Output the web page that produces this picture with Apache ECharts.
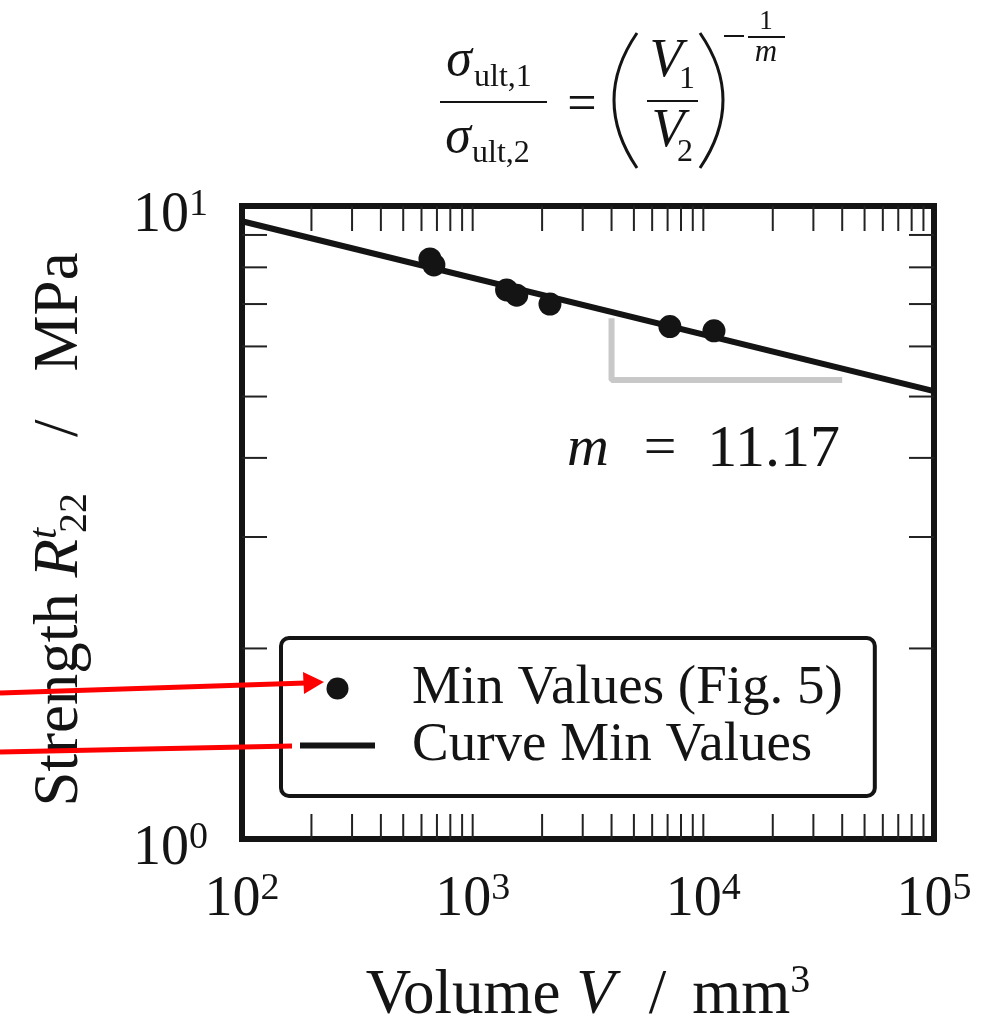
<!DOCTYPE html>
<html>
<head>
<meta charset="utf-8">
<script src="https://cdn.jsdelivr.net/npm/echarts@6/dist/echarts.min.js"></script>
<style>
  html, body { margin: 0; padding: 0; background: #fff; }
  #chart { width: 997px; height: 1027px; }
</style>
</head>
<body>
<div id="chart"></div>
<script>
// measured points (volume in mm^3, strength in MPa)
var volumes = [653, 679, 1403, 1552, 2163, 7162, 11120];
var strengths = [8.25, 8.07, 7.37, 7.23, 7.00, 6.45, 6.35];

// fitted curve end points, m = 11.17
var curveX = [100, 100000];
var curveY = [9.46, 5.10];

// slope triangle (grey)
var triX = [4000, 4000, 40000];
var triY = [6.65, 5.31, 5.31];

// tick positions and decade labels
var xTicks = [200, 300, 400, 500, 600, 700, 800, 900, 1000,
  2000, 3000, 4000, 5000, 6000, 7000, 8000, 9000, 10000,
  20000, 30000, 40000, 50000, 60000, 70000, 80000, 90000];
var yTicks = [2, 3, 4, 5, 6, 7, 8, 9];
var xLabelExp = { 100: '2', 1000: '3', 10000: '4', 100000: '5' };
var yLabelExp = { 1: '0', 10: '1' };

var serif = '"Liberation Serif", "DejaVu Serif", serif';
var ink = '#141414';

var chart = echarts.init(document.getElementById('chart'));

function zip(a, b) {
  return a.map(function (v, i) { return [v, b[i]]; });
}

var labelRich = {
  b: { fontFamily: serif, fontSize: 56, color: ink, lineHeight: 60 },
  s: { fontFamily: serif, fontSize: 38, color: ink, lineHeight: 60, verticalAlign: 'top', padding: [0, 0, 26, 0] }
};

function tickItem(params, api, dir) {
  var cs = params.coordSys;
  var p = api.coord([api.value(0), api.value(1)]);
  var L = 25;
  var st = { stroke: '#222', lineWidth: 2 };
  if (dir === 'x') {
    return { type: 'group', children: [
      { type: 'line', shape: { x1: p[0], y1: cs.y + cs.height, x2: p[0], y2: cs.y + cs.height - L }, style: st },
      { type: 'line', shape: { x1: p[0], y1: cs.y, x2: p[0], y2: cs.y + L }, style: st }
    ] };
  }
  return { type: 'group', children: [
    { type: 'line', shape: { x1: cs.x, y1: p[1], x2: cs.x + L, y2: p[1] }, style: st },
    { type: 'line', shape: { x1: cs.x + cs.width, y1: p[1], x2: cs.x + cs.width - L, y2: p[1] }, style: st }
  ] };
}

var nameRich = {
  a: { fontFamily: serif, fontSize: 63, color: ink, lineHeight: 70 },
  i: { fontFamily: serif, fontSize: 63, fontStyle: 'italic', color: ink, lineHeight: 70 },
  sl: { fontFamily: serif, fontSize: 63, color: ink, lineHeight: 70 },
  s: { fontFamily: serif, fontSize: 40, color: ink, lineHeight: 70, verticalAlign: 'top', padding: [0, 0, 26, 0] },
  sup: { fontFamily: serif, fontSize: 40, fontStyle: 'italic', color: ink, lineHeight: 70, width: 1, verticalAlign: 'top', padding: [0, 0, 26, 5] },
  sub: { fontFamily: serif, fontSize: 40, color: ink, lineHeight: 70, verticalAlign: 'bottom', padding: [16, 0, 0, 0] }
};

var option = {
  backgroundColor: '#fff',
  animation: false,
  grid: {
    left: 242, top: 206, right: 63, bottom: 188,
    outerBoundsMode: 'none',
    containLabel: false,
    show: true, borderColor: ink, borderWidth: 6, backgroundColor: 'transparent'
  },
  xAxis: {
    type: 'log', logBase: 10, min: 100, max: 100000,
    axisLine: { show: false },
    axisTick: { show: false },
    splitLine: { show: false },
    axisLabel: {
      margin: 31,
      formatter: function (v) { return '{b|10}{s|' + (xLabelExp[Math.round(v)] || '') + '}'; },
      rich: labelRich
    },
    name: '{a|Volume }{i|V}{sl|/}{a|mm}{s|3}',
    nameLocation: 'middle',
    nameGap: 122,
    nameTextStyle: {
      rich: Object.assign({}, nameRich, {
        sl: { fontFamily: serif, fontSize: 63, color: ink, lineHeight: 70, padding: [0, 26, 0, 34] }
      })
    }
  },
  yAxis: {
    type: 'log', logBase: 10, min: 1, max: 10,
    axisLine: { show: false },
    axisTick: { show: false },
    splitLine: { show: false },
    axisLabel: {
      margin: 34,
      padding: [20, 0, 0, 0],
      formatter: function (v) { return '{b|10}{s|' + (yLabelExp[Math.round(v)] || '') + '}'; },
      rich: labelRich
    },
    name: '{a|Strength }{i|R}{sup|t}{sub|22}{sl|/}{e|MPa}',
    nameLocation: 'middle',
    nameRotate: 90,
    nameGap: 147,
    nameTextStyle: {
      rich: Object.assign({}, nameRich, {
        sl: { fontFamily: serif, fontSize: 63, color: ink, lineHeight: 70, padding: [0, 48, 0, 56] },
        e: { fontFamily: serif, fontSize: 63, color: ink, lineHeight: 70, padding: [0, 14, 0, 0] }
      })
    }
  },
  legend: {
    orient: 'vertical',
    left: 281, top: 638,
    padding: [22, 32, 22, 19],
    itemGap: 0,
    itemWidth: 75, itemHeight: 22,
    borderColor: ink, borderWidth: 4, borderRadius: 8,
    backgroundColor: '#fff',
    selectedMode: false,
    textStyle: { fontFamily: serif, fontSize: 55, color: ink, lineHeight: 57, padding: [0, 0, 0, 32] },
    data: [
      { name: 'Min Values (Fig. 5)', icon: 'circle' },
      { name: 'Curve Min Values', icon: 'path://M0,0H75V6H0Z' }
    ]
  },
  series: [
    {
      name: 'slope',
      type: 'line',
      data: zip(triX, triY),
      symbol: 'none',
      lineStyle: { color: '#c8c8c8', width: 6 },
      silent: true, z: 1
    },
    {
      name: 'Curve Min Values',
      type: 'line',
      data: zip(curveX, curveY),
      symbol: 'none',
      itemStyle: { color: ink },
      lineStyle: { color: ink, width: 6 },
      z: 2
    },
    {
      name: 'Min Values (Fig. 5)',
      type: 'scatter',
      data: zip(volumes, strengths),
      symbolSize: 23,
      itemStyle: { color: ink, opacity: 1 },
      z: 3
    },
    {
      name: 'xticks', type: 'custom', silent: true, clip: false,
      data: xTicks.map(function (v) { return [v, 1]; }),
      renderItem: function (p, api) { return tickItem(p, api, 'x'); }
    },
    {
      name: 'yticks', type: 'custom', silent: true, clip: false,
      data: yTicks.map(function (v) { return [100, v]; }),
      renderItem: function (p, api) { return tickItem(p, api, 'y'); }
    }
  ],
  graphic: [
    // formula title
    { type: 'text', x: 459, y: 61, style: { text: 'σ', font: 'italic 52px ' + serif, fill: ink, align: 'center', verticalAlign: 'middle' } },
    { type: 'text', x: 474, y: 78, style: { text: 'ult,1', font: '32px ' + serif, fill: ink, align: 'left', verticalAlign: 'middle' } },
    { type: 'line', shape: { x1: 440, y1: 102, x2: 547, y2: 102 }, style: { stroke: ink, lineWidth: 2 } },
    { type: 'text', x: 458, y: 138, style: { text: 'σ', font: 'italic 52px ' + serif, fill: ink, align: 'center', verticalAlign: 'middle' } },
    { type: 'text', x: 472, y: 154, style: { text: 'ult,2', font: '32px ' + serif, fill: ink, align: 'left', verticalAlign: 'middle' } },
    { type: 'text', x: 582, y: 106, style: { text: '=', font: '52px ' + serif, fill: ink, align: 'center', verticalAlign: 'middle' } },
    { type: 'bezierCurve', shape: { x1: 637, y1: 33, x2: 637, y2: 168, cpx1: 591, cpy1: 100 }, style: { stroke: ink, lineWidth: 3, fill: null } },
    { type: 'text', x: 666, y: 62, style: { text: 'V', font: 'italic 54px ' + serif, fill: ink, align: 'center', verticalAlign: 'middle' } },
    { type: 'text', x: 687, y: 80, style: { text: '1', font: '32px ' + serif, fill: ink, align: 'center', verticalAlign: 'middle' } },
    { type: 'line', shape: { x1: 647, y1: 101, x2: 698, y2: 101 }, style: { stroke: ink, lineWidth: 2 } },
    { type: 'text', x: 668, y: 132, style: { text: 'V', font: 'italic 54px ' + serif, fill: ink, align: 'center', verticalAlign: 'middle' } },
    { type: 'text', x: 685, y: 153, style: { text: '2', font: '32px ' + serif, fill: ink, align: 'center', verticalAlign: 'middle' } },
    { type: 'bezierCurve', shape: { x1: 700, y1: 33, x2: 700, y2: 168, cpx1: 746, cpy1: 100 }, style: { stroke: ink, lineWidth: 3, fill: null } },
    { type: 'line', shape: { x1: 724, y1: 36, x2: 744, y2: 36 }, style: { stroke: ink, lineWidth: 2 } },
    { type: 'text', x: 766, y: 22, style: { text: '1', font: '27px ' + serif, fill: ink, align: 'center', verticalAlign: 'middle' } },
    { type: 'line', shape: { x1: 748, y1: 37, x2: 785, y2: 37 }, style: { stroke: ink, lineWidth: 2 } },
    { type: 'text', x: 766, y: 53, style: { text: 'm', font: 'italic 31px ' + serif, fill: ink, align: 'center', verticalAlign: 'middle' } },
    // slope annotation
    { type: 'text', x: 567, y: 450, style: { text: 'm', font: 'italic 58px ' + serif, fill: ink, align: 'left', verticalAlign: 'middle' } },
    { type: 'text', x: 660, y: 450, style: { text: '=', font: '58px ' + serif, fill: ink, align: 'center', verticalAlign: 'middle' } },
    { type: 'text', x: 840, y: 450, style: { text: '11.17', font: '60px ' + serif, fill: ink, align: 'right', verticalAlign: 'middle' } },
    // red pointer arrows
    { type: 'line', z: 100, shape: { x1: 0, y1: 693, x2: 306, y2: 683 }, style: { stroke: '#ff0000', lineWidth: 5 } },
    { type: 'polygon', z: 100, shape: { points: [[324, 682], [303, 672], [304, 694]] }, style: { fill: '#ff0000' } },
    { type: 'line', z: 100, shape: { x1: 0, y1: 752, x2: 292, y2: 746 }, style: { stroke: '#ff0000', lineWidth: 5 } }
  ]
};

chart.setOption(option);
</script>
</body>
</html>
